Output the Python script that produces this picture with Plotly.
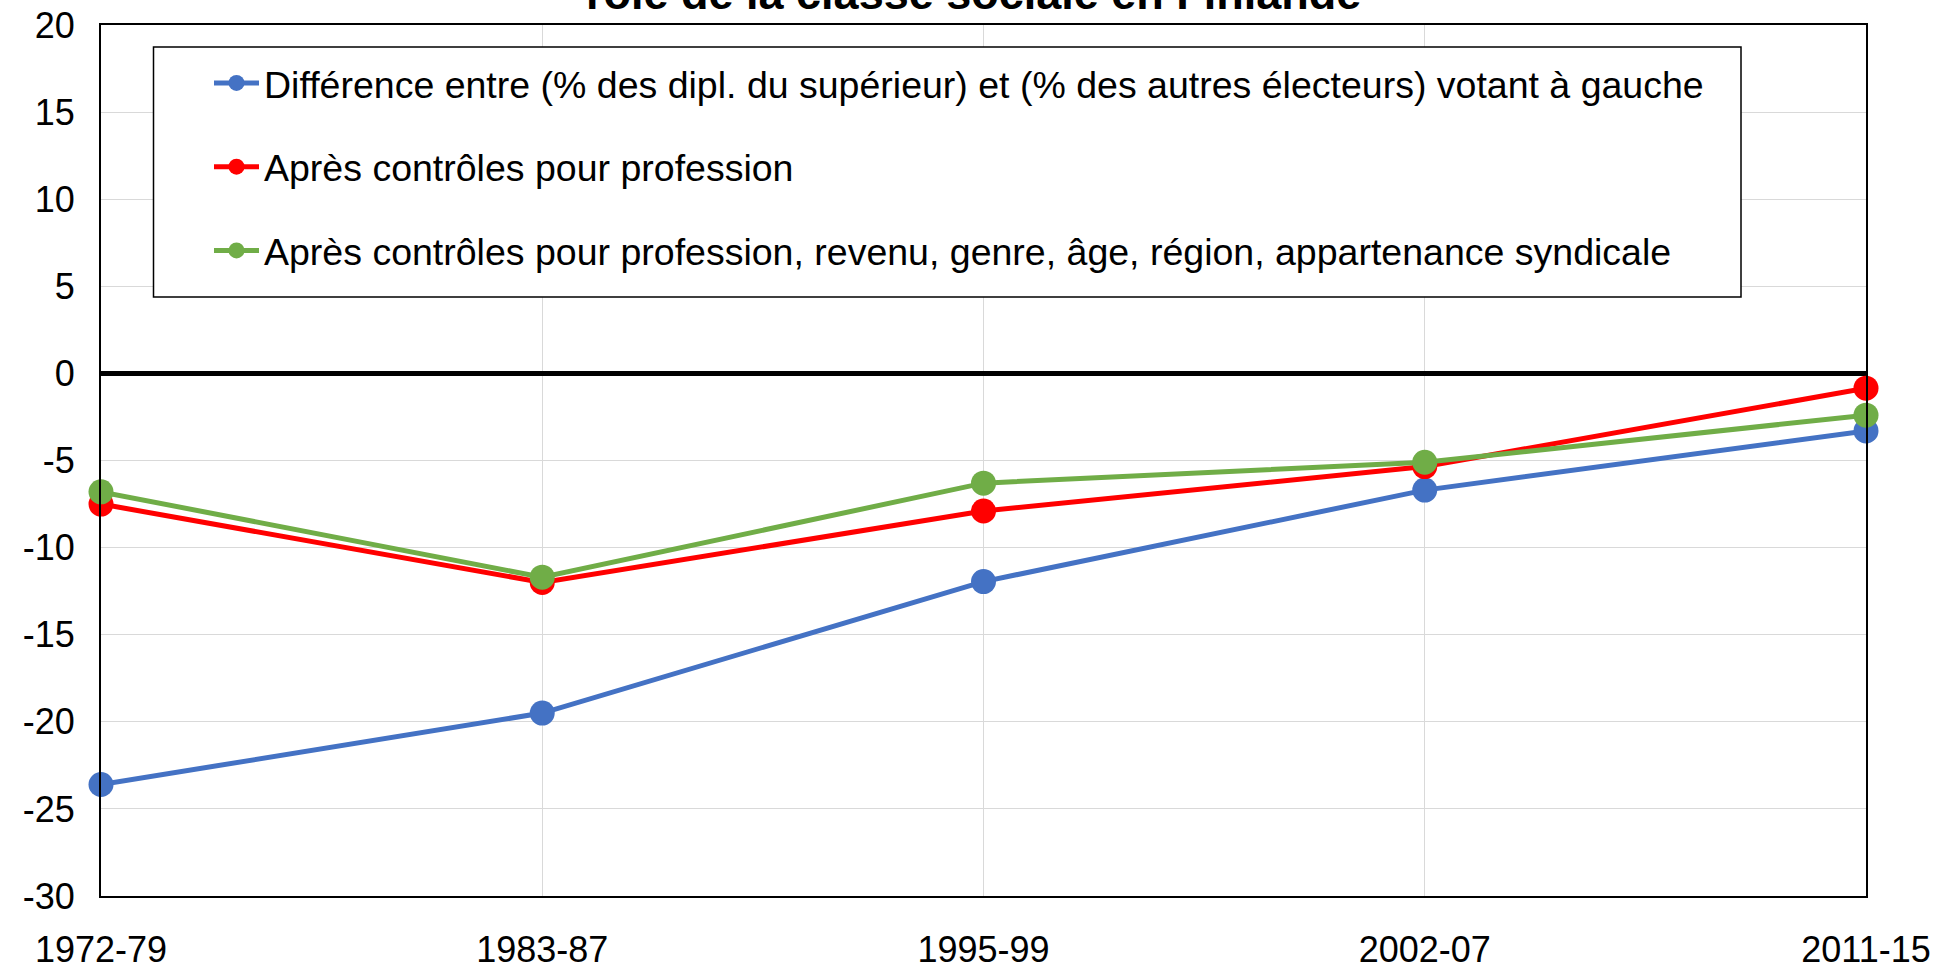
import plotly.graph_objects as go

periods = ["1972-79", "1983-87", "1995-99", "2002-07", "2011-15"]
diff_brute = [-23.6, -19.5, -11.95, -6.7, -3.3]
ctrl_profession = [-7.5, -12.0, -7.9, -5.35, -0.85]
ctrl_tous = [-6.8, -11.7, -6.3, -5.1, -2.4]

names = [
    "Différence entre (% des dipl. du supérieur) et (% des autres électeurs) votant à gauche",
    "Après contrôles pour profession",
    "Après contrôles pour profession, revenu, genre, âge, région, appartenance syndicale",
]
colors = ["#4472C4", "#FF0000", "#70AD47"]
title_text = "rôle de la classe sociale en Finlande"
y_ticks = [20, 15, 10, 5, 0, -5, -10, -15, -20, -25, -30]
y_ticktext = [str(v) for v in y_ticks]

FONT = "Arial, Liberation Sans, sans-serif"
W, H = 1957, 969
ML, MR, MT, MB = 101, 91, 25, 73
PW, PH = W - ML - MR, H - MT - MB


def px_to_paper_x(px):
    return (px - ML) / PW


def px_to_paper_y(py):
    return 1 - (py - MT) / PH


xs = list(range(len(periods)))

fig = go.Figure()
for i, (ys, nm, c) in enumerate(zip([diff_brute, ctrl_profession, ctrl_tous], names, colors)):
    fig.add_trace(go.Scatter(
        x=xs, y=ys, name=nm, mode="lines+markers",
        line=dict(color=c, width=5),
        marker=dict(color=c, size=25),
        cliponaxis=False, legendgroup=f"g{i}",
    ))

fig.update_layout(
    width=W, height=H,
    margin=dict(l=ML, r=MR, t=MT, b=MB),
    plot_bgcolor="white", paper_bgcolor="white",
    font=dict(family=FONT, size=36, color="black"),
    showlegend=True,
    legend=dict(
        x=px_to_paper_x(209), y=px_to_paper_y(52), xanchor="left", yanchor="top",
        bgcolor="rgba(0,0,0,0)", borderwidth=0,
        font=dict(size=37.5, family=FONT, color="black"),
        traceorder="grouped", tracegroupgap=32,
        itemwidth=45,
    ),
    xaxis=dict(
        range=[0, 4], tickvals=xs, ticktext=periods, automargin=False,
        showgrid=True, gridcolor="#D9D9D9", gridwidth=1.2,
        showline=True, linecolor="black", linewidth=2, mirror=True,
        ticks="", zeroline=False, ticklabelstandoff=21,
        tickfont=dict(size=36, family=FONT),
    ),
    yaxis=dict(
        range=[-30, 20], tickvals=y_ticks, ticktext=y_ticktext, automargin=False,
        showgrid=True, gridcolor="#D9D9D9", gridwidth=1.2,
        showline=True, linecolor="black", linewidth=2, mirror=True,
        zeroline=True, zerolinecolor="black", zerolinewidth=4.5,
        ticks="", ticklabelstandoff=17,
        tickfont=dict(size=36, family=FONT),
    ),
    shapes=[dict(
        type="rect", xref="paper", yref="paper",
        x0=px_to_paper_x(153.5), x1=px_to_paper_x(1741),
        y0=px_to_paper_y(297), y1=px_to_paper_y(47),
        line=dict(color="black", width=1.5), fillcolor="white", layer="above",
    )],
    annotations=[dict(
        text="<b>" + title_text + "</b>", xref="paper", yref="paper",
        x=px_to_paper_x(973), y=1.0, xanchor="center", yanchor="bottom", yshift=4,
        showarrow=False, font=dict(size=45, family=FONT, color="black"),
    )],
)

fig.write_html(
    "out.html",
    config={"displayModeBar": False},
    post_script="document.body.style.margin='0';document.body.style.padding='0';document.body.style.overflow='hidden';",
)
